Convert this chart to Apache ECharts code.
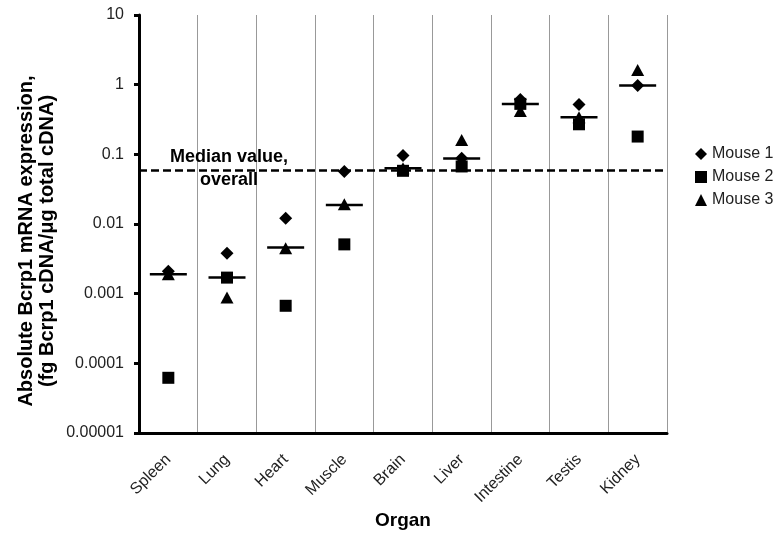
<!DOCTYPE html>
<html>
<head>
<meta charset="utf-8">
<script src="https://cdn.jsdelivr.net/npm/echarts@6/dist/echarts.min.js"></script>
<style>
  html, body { margin: 0; padding: 0; background: #fff; }
  #main { width: 776px; height: 538px; }
</style>
</head>
<body>
<div id="main"></div>
<script>
// organs on the x axis
const organs = ['Spleen', 'Lung', 'Heart', 'Muscle', 'Brain', 'Liver', 'Intestine', 'Testis', 'Kidney'];
// fg Bcrp1 cDNA / ug total cDNA
const mouse1 = [0.0021, 0.0038, 0.0121, 0.0565, 0.096, 0.088, 0.61, 0.52, 0.97];
const mouse2 = [0.000062, 0.0017, 0.00067, 0.0051, 0.058, 0.067, 0.53, 0.27, 0.18];
const mouse3 = [0.0019, 0.00088, 0.0045, 0.0192, 0.063, 0.161, 0.42, 0.34, 1.63];
const organMedian = [0.0019, 0.0017, 0.0046, 0.0188, 0.063, 0.087, 0.53, 0.34, 0.97];
const overallMedian = 0.062;
const yTickLabels = ['0.00001', '0.0001', '0.001', '0.01', '0.1', '1', '10'];

const myChart = echarts.init(document.getElementById('main'));
const font = 'Liberation Sans, Arial, sans-serif';
const black = { color: '#000', opacity: 1 };

const option = {
    animation: false,
    textStyle: { fontFamily: font },
    grid: { left: 139, right: 109, top: 15, bottom: 105 },
    legend: {
        orient: 'vertical',
        left: 690,
        top: 141,
        itemWidth: 12,
        itemHeight: 12,
        itemGap: 7,
        textStyle: { fontSize: 16, color: '#222', fontFamily: font },
        data: [
            { name: 'Mouse 1', icon: 'diamond' },
            { name: 'Mouse 2', icon: 'rect' },
            { name: 'Mouse 3', icon: 'triangle' }
        ]
    },
    xAxis: {
        type: 'category',
        data: organs,
        boundaryGap: true,
        axisLine: { lineStyle: { color: '#000', width: 3 } },
        axisTick: { length: 5, lineStyle: { color: '#000', width: 3 } },
        axisLabel: { rotate: 45, fontSize: 16, color: '#222', margin: 24, fontFamily: font },
        splitLine: { show: true, lineStyle: { color: '#999', width: 1 } }
    },
    yAxis: {
        type: 'log',
        logBase: 10,
        min: 0.00001,
        max: 10,
        splitNumber: 6,
        axisLine: { show: true, lineStyle: { color: '#000', width: 3 } },
        axisTick: { show: true, length: 5, lineStyle: { color: '#000', width: 3 } },
        axisLabel: {
            fontSize: 16, color: '#222', margin: 15, fontFamily: font,
            formatter: function (v) {
                return yTickLabels[Math.round(Math.log10(v)) + 5];
            }
        },
        splitLine: { show: false }
    },
    series: [
        {
            name: 'Mouse 1', type: 'scatter', symbol: 'diamond', symbolSize: [13, 13],
            itemStyle: black, data: mouse1, z: 3
        },
        {
            name: 'Mouse 2', type: 'scatter', symbol: 'rect', symbolSize: 12,
            itemStyle: black, data: mouse2, z: 3
        },
        {
            name: 'Mouse 3', type: 'scatter', symbol: 'triangle', symbolSize: [13, 12],
            itemStyle: black, data: mouse3, z: 3
        },
        {
            name: 'Median', type: 'scatter', symbol: 'rect', symbolSize: [37, 2.5],
            itemStyle: black, data: organMedian, z: 4,
            markLine: {
                silent: true,
                symbol: 'none',
                label: { show: false },
                lineStyle: { color: '#000', width: 2.5, type: [8, 4], opacity: 1 },
                data: [{ yAxis: overallMedian }]
            }
        }
    ],
    graphic: [
        {
            type: 'text', x: 229, y: 169, z: 10,
            style: {
                text: 'Median value,\noverall', font: 'bold 18px ' + font,
                fill: '#000', align: 'center', verticalAlign: 'middle', lineHeight: 23
            }
        },
        {
            type: 'text', x: 37, y: 241, rotation: Math.PI / 2,
            style: {
                text: 'Absolute Bcrp1 mRNA expression,\n(fg Bcrp1 cDNA/\u03bcg total cDNA)',
                font: 'bold 20px ' + font, fill: '#000',
                align: 'center', verticalAlign: 'middle', lineHeight: 21
            }
        },
        {
            type: 'text', x: 403, y: 521,
            style: {
                text: 'Organ', font: 'bold 19px ' + font, fill: '#000',
                align: 'center', verticalAlign: 'middle'
            }
        }
    ]
};

myChart.setOption(option);
</script>
</body>
</html>
